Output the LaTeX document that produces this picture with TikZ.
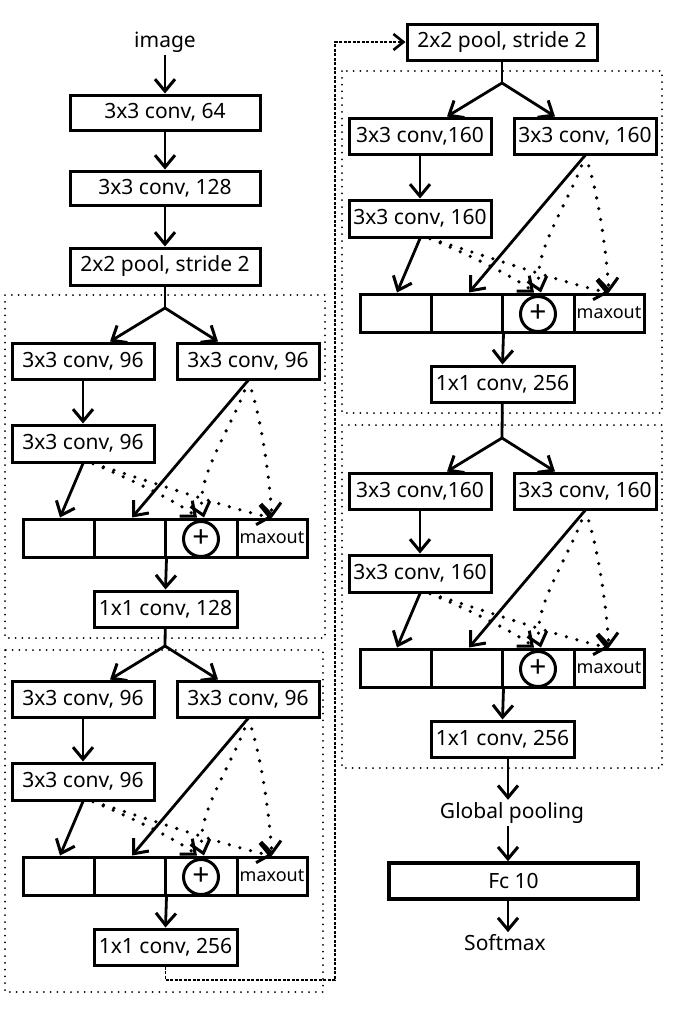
\documentclass[tikz,border=0pt]{standalone}
\usepackage{fontspec}
\setmainfont{Noto Sans}
\usetikzlibrary{arrows.meta}
\tikzset{
 box/.style={draw, line width=3, inner sep=0, font=\fontsize{21}{24}\selectfont, minimum height=36},
 txt/.style={inner sep=2.5, font=\fontsize{21}{24}\selectfont},
 cellbox/.style={draw, line width=3, minimum width=71, minimum height=38, inner sep=0},
 tip/.style={-{Straight Barb[length=12pt,width=20pt,line width=3pt]}},
 arr/.style={line width=2.8, tip},
 thinarr/.style={line width=1.4, tip},
 dotarr/.style={line width=3.6, line cap=round, dash pattern=on 0pt off 11pt, tip},
 plain/.style={line width=2.8},
 blockborder/.style={line width=2, line cap=round, dash pattern=on 0pt off 6.8pt},
 dashconn/.style={line width=1.4, dash pattern=on 3pt off 1.5pt},
}
\newcommand{\incblock}[7]{%
\begin{scope}[shift={(#2,#3)}]
\coordinate (#1br) at (165,308);
\node[box, minimum width=142] (#1L1) at (83,361) {#4};
\node[box, minimum width=142] (#1R1) at (248,361) {#5};
\node[box, minimum width=142, minimum height=37] (#1L2) at (83,443.5) {#6};
\node[cellbox] (#1c1) at (58.5,538) {};
\node[cellbox] (#1c2) at (129.5,538) {};
\node[cellbox, minimum width=72] (#1c3) at (201,538) {};
\node[cellbox, minimum width=70, font=\fontsize{18}{20}\selectfont] (#1c4) at (272,538) {maxout};
\node[draw, circle, line width=3, minimum size=35, inner sep=0, fill=white, font=\fontsize{30}{30}\selectfont] (#1sum) at (201,539) {+};
\node[box, minimum width=143] (#1out) at (165.5,609) {#7};
\draw[arr] (#1br) -- ([xshift=27]#1L1.north);
\draw[arr] (#1br) -- ([xshift=-30]#1R1.north);
\draw[arr] (#1L1) -- (#1L2);
\draw[arr] (#1L2.south) -- ([xshift=1.5]#1c1.north);
\draw[arr] (#1R1.south) -- ([xshift=2.5]#1c2.north);
\draw[dotarr] ([xshift=10]#1L2.south) .. controls +(45,19) and +(-17,-14) .. ([xshift=-4]#1c3.north);
\draw[dotarr] ([xshift=10]#1L2.south) .. controls +(57,18) and +(-37,-7) .. (#1c4.north);
\draw[dotarr] (#1R1.south) .. controls +(-12,41) and +(-11,-39) .. ([xshift=3]#1c3.north);
\draw[dotarr] (#1R1.south) .. controls +(9,21) and +(-4,-59) .. (#1c4.north);
\draw[arr] (#1c2.south east) -- (#1out.north);
\end{scope}}
\begin{document}
\begin{tikzpicture}[x=1pt,y=-1pt]
\useasboundingbox (0,0) rectangle (686,1029);
% left column top
\node[txt] (img) at (165,42) {image};
\node[box, minimum width=190, minimum height=35] (c64) at (165,112.5) {3x3 conv, 64};
\node[box, minimum width=190, minimum height=34] (c128) at (165,188) {3x3 conv, 128};
\node[box, minimum width=190, minimum height=37] (pool1) at (165,266.5) {2x2 pool, stride 2};
\draw[arr] (img) -- (c64);
\draw[thinarr] (c64) -- (c128);
\draw[thinarr] (c128) -- (pool1);
% right column top
\node[box, minimum width=190, minimum height=36] (pool2) at (502,42) {2x2 pool, stride 2};
% blocks
\incblock{A}{0}{0}{3x3 conv, 96}{3x3 conv, 96}{3x3 conv, 96}{1x1 conv, 128}
\incblock{B}{0}{338}{3x3 conv, 96}{3x3 conv, 96}{3x3 conv, 96}{1x1 conv, 256}
\incblock{C}{337}{-225}{3x3 conv,160}{3x3 conv, 160}{3x3 conv, 160}{1x1 conv, 256}
\incblock{D}{337}{130}{3x3 conv,160}{3x3 conv, 160}{3x3 conv, 160}{1x1 conv, 256}
\draw[plain] (pool1) -- (Abr);
\draw[plain] (Aout) -- (Bbr);
\draw[plain] (pool2) -- (Cbr);
\draw[plain] (Cout) -- (Dbr);
% block borders
\draw[blockborder] (5,295) rectangle (325,638);
\draw[blockborder] (5,650) rectangle (323,992);
\draw[blockborder] (342,71) rectangle (662,413);
\draw[blockborder] (342,425) rectangle (662,768);
% skip connection
\coordinate (dc) at (335,980);
\draw[dashconn, -{Straight Barb[length=10pt,width=16pt,line width=2.6pt]}] (Bout.south) |- (dc) |- (pool2.west);
% head
\coordinate (ax) at (508,0);
\node[txt] (gp) at (512,813) {Global pooling};
\node[box, minimum width=249, line width=3.5] (fc) at (513.5,881) {Fc 10};
\node[txt] (sm) at (505,943) {Softmax};
\draw[arr] (Dout.south -| ax) -- (gp.north -| ax);
\draw[arr] (gp.south -| ax) -- (fc.north -| ax);
\draw[arr] (fc.south -| ax) -- (sm.north -| ax);
\end{tikzpicture}
\end{document}
